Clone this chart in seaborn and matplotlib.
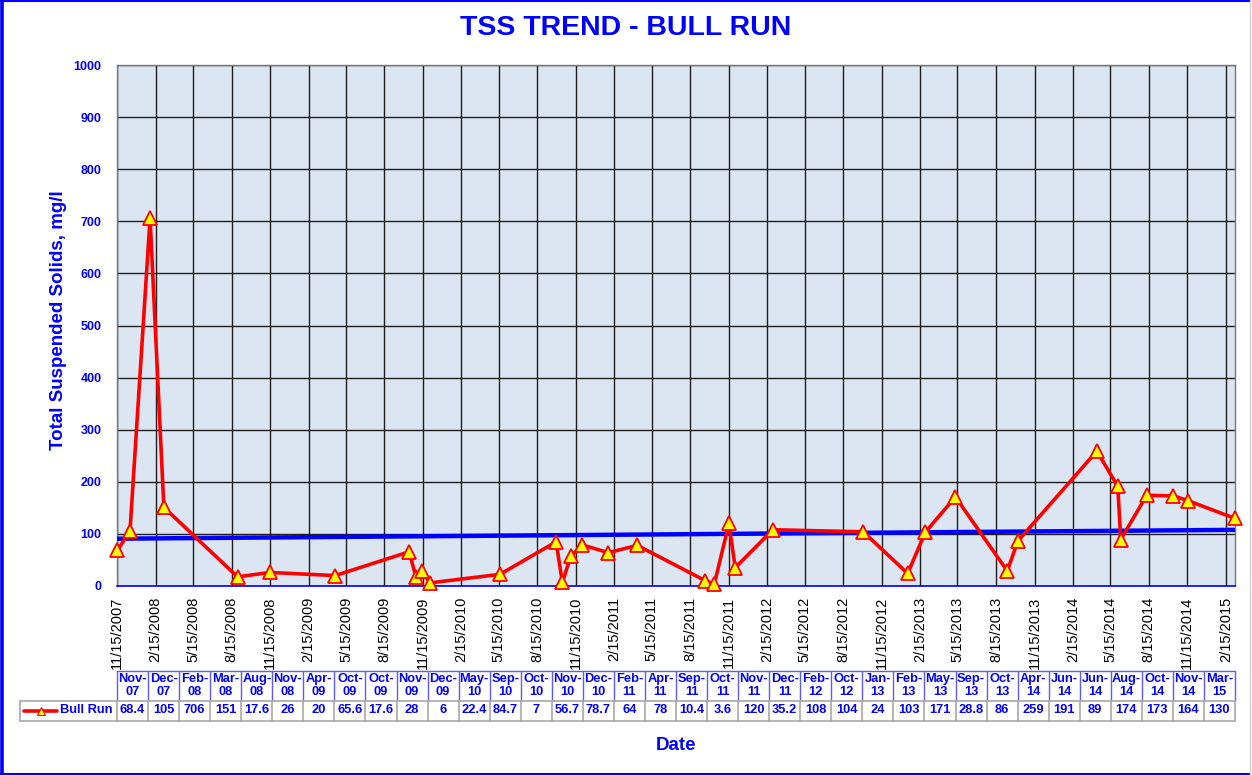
import numpy as np
import pandas as pd
import matplotlib
matplotlib.use("Agg")
import matplotlib.pyplot as plt
import matplotlib.dates as mdates
from matplotlib.ticker import FuncFormatter
from matplotlib.lines import Line2D
import seaborn as sns

# ---------------- data ----------------
sample_dates = [
    "2007-11-16", "2007-12-16", "2008-02-02", "2008-03-06", "2008-08-29",
    "2008-11-15", "2009-04-19", "2009-10-13", "2009-10-29", "2009-11-12",
    "2009-12-02", "2010-05-18", "2010-09-29", "2010-10-14", "2010-11-03",
    "2010-12-01", "2011-02-01", "2011-04-11", "2011-09-20", "2011-10-12",
    "2011-11-16", "2011-12-01", "2012-02-29", "2012-10-02", "2013-01-16",
    "2013-02-27", "2013-05-10", "2013-09-11", "2013-10-06", "2014-04-13",
    "2014-06-02", "2014-06-09", "2014-08-10", "2014-10-13", "2014-11-16",
    "2015-03-08",
]
tss_values = [
    68.4, 105, 706, 151, 17.6, 26, 20, 65.6, 17.6, 28,
    6, 22.4, 84.7, 7, 56.7, 78.7, 64, 78, 10.4, 3.6,
    120, 35.2, 108, 104, 24, 103, 171, 28.8, 86, 259,
    191, 89, 174, 173, 164, 130,
]
value_labels = [
    "68.4", "105", "706", "151", "17.6", "26", "20", "65.6", "17.6", "28",
    "6", "22.4", "84.7", "7", "56.7", "78.7", "64", "78", "10.4", "3.6",
    "120", "35.2", "108", "104", "24", "103", "171", "28.8", "86", "259",
    "191", "89", "174", "173", "164", "130",
]
series_name = "Bull Run"
chart_title = "TSS TREND - BULL RUN"
y_label = "Total Suspended Solids, mg/l"
x_label = "Date"
x_start, x_end = "2007-11-15", "2015-03-09"
y_ticks = list(range(0, 1001, 100))

# ---------------- style ----------------
sns.set_style("white")
plt.rcParams["font.family"] = ["Liberation Sans", "DejaVu Sans"]
BLUE = "#0000FF"
W, H = 1252, 775


def box(l, t, r, b):
    return [l / W, 1 - b / H, (r - l) / W, (b - t) / H]


fig = plt.figure(figsize=(W / 100, H / 100), dpi=100)

df = pd.DataFrame({"date": pd.to_datetime(sample_dates), "tss": tss_values})
df["x"] = mdates.date2num(df["date"])

# ---------------- main plot ----------------
ax = fig.add_axes(box(117, 65, 1235, 586))
ax.set_facecolor("#DCE6F2")
ax.set_axisbelow(True)
ax.grid(True, color="#1e1e1e", lw=1.0)

sns.regplot(data=df, x="x", y="tss", scatter=False, ci=None, ax=ax,
            line_kws={"color": BLUE, "lw": 3.2, "zorder": 3})
sns.lineplot(data=df, x="x", y="tss", sort=False, ax=ax, color="red",
             lw=2.6, marker="^", markersize=10, markerfacecolor="yellow",
             markeredgecolor="red", markeredgewidth=1.3, zorder=4,
             clip_on=False)

ax.set_xlim(mdates.date2num(pd.Timestamp(x_start)), mdates.date2num(pd.Timestamp(x_end)))
ax.set_ylim(0, 1000)
ax.set_yticks(y_ticks)
ax.xaxis.set_major_locator(mdates.MonthLocator(bymonth=(2, 5, 8, 11), bymonthday=15))


def fmt_date(v, pos):
    d = mdates.num2date(v)
    return f"{d.month}/{d.day}/{d.year}"


ax.xaxis.set_major_formatter(FuncFormatter(fmt_date))
ax.tick_params(axis="x", labelrotation=90, labelsize=10.5, labelcolor="black",
               length=0, pad=8)
ax.tick_params(axis="y", labelsize=9, labelcolor=BLUE, length=0, pad=11)
for lab in ax.get_yticklabels():
    lab.set_fontweight("bold")
ax.set_xlabel("")
ax.set_ylabel("")
for side in ["left", "right", "top"]:
    ax.spines[side].set_color("#777777")
    ax.spines[side].set_linewidth(1)
ax.spines["bottom"].set_color(BLUE)
ax.spines["bottom"].set_linewidth(1.2)

fig.text(626 / W, 1 - 28 / H, chart_title, ha="center", va="center",
         fontsize=20.5, fontweight="bold", color=BLUE)
fig.text(58.5 / W, 1 - 320 / H, y_label, ha="center", va="center",
         rotation=90, fontsize=13.5, fontweight="bold", color=BLUE)
fig.text(676 / W, 1 - 745 / H, x_label, ha="center", va="center",
         fontsize=13.5, fontweight="bold", color=BLUE)

# ---------------- data table ----------------
n = len(tss_values)
col_px = (1235 - 117) / n
legend_w = (117 - 20) / col_px
header_labels = [d.strftime("%b-\n%y") for d in df["date"]]

axt = fig.add_axes(box(117, 671, 1235, 721))
axt.set_xlim(0, n)
axt.set_ylim(0, 50)
axt.axis("off")

TB = "#5a5aff"
GR = "#a8a8a8"
for i in range(n):
    axt.text(i + 0.5, 35.5, header_labels[i], ha="center", va="center",
             fontsize=9.3, fontweight="bold", color=BLUE, linespacing=1.15)
    axt.text(i + 0.5, 11, value_labels[i], ha="center", va="center",
             fontsize=9.3, fontweight="bold", color=BLUE)
    axt.plot([i, i], [20, 50], color=TB, lw=1, clip_on=False)
    axt.plot([i, i], [0, 20], color=GR, lw=1.2, clip_on=False)
axt.plot([n, n], [20, 50], color=TB, lw=1, clip_on=False)
axt.plot([n, n], [0, 20], color=GR, lw=1.2, clip_on=False)
axt.plot([0, n], [50, 50], color=TB, lw=1, clip_on=False)
axt.plot([-legend_w, n], [20, 20], color=GR, lw=1.2, clip_on=False)
axt.plot([-legend_w, n], [0, 0], color=GR, lw=1.2, clip_on=False)
axt.plot([-legend_w, -legend_w], [0, 20], color=GR, lw=1.2, clip_on=False)

# legend key in the table
lx0 = -legend_w + 4 / col_px
lx1 = -legend_w + 37 / col_px
axt.add_line(Line2D([lx0, lx1], [10.5, 10.5], color="red", lw=2.6, clip_on=False))
axt.add_line(Line2D([(lx0 + lx1) / 2], [10.5], marker="^", markersize=6,
                    markerfacecolor="yellow", markeredgecolor="red",
                    markeredgewidth=0.8, lw=0, clip_on=False))
axt.text(-legend_w + 40 / col_px, 11, series_name, ha="left", va="center",
         fontsize=9.3, fontweight="bold", color=BLUE)

# ---------------- figure border ----------------
fig.add_artist(Line2D([1.5 / W, 1.5 / W], [0, 1], color=BLUE, lw=2.6, transform=fig.transFigure))
fig.add_artist(Line2D([0, 1250 / W], [1 - 0.8 / H, 1 - 0.8 / H], color=BLUE, lw=1.5, transform=fig.transFigure))
fig.add_artist(Line2D([0, 1250 / W], [1 - 774 / H, 1 - 774 / H], color=BLUE, lw=1.5, transform=fig.transFigure))
fig.add_artist(Line2D([1250 / W, 1250 / W], [1 - 774 / H, 1], color="#d0d0d0", lw=1, transform=fig.transFigure))

fig.savefig("out.png", dpi=100)
